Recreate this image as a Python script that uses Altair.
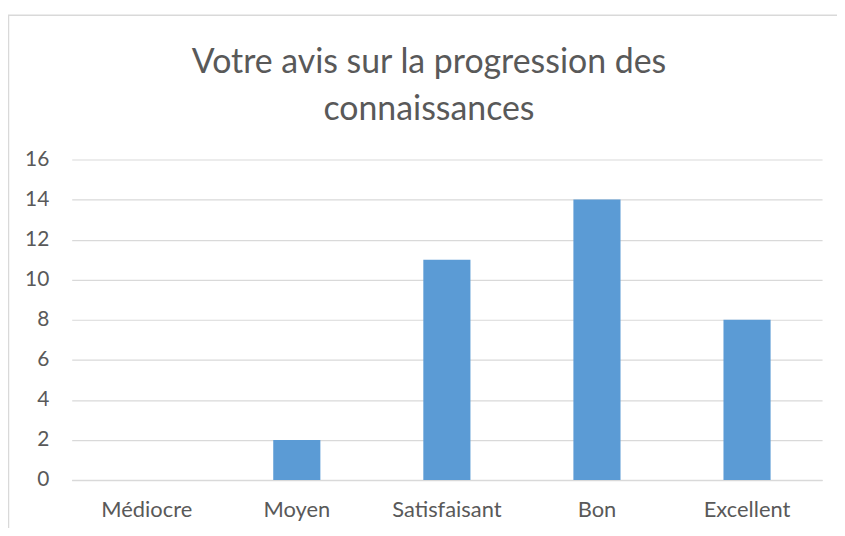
import altair as alt
import pandas as pd

categories = ["Médiocre", "Moyen", "Satisfaisant", "Bon", "Excellent"]
values = [0, 2, 11, 14, 8]
title_lines = ["Votre avis sur la progression des", "connaissances"]

df = pd.DataFrame({"cat": categories, "val": values})

W, H = 754, 322
GREY = "#595959"
LINE = "#D9D9D9"

bars = alt.Chart(df).mark_bar(color="#5B9BD5", width={"band": 0.314}).encode(
    x=alt.X("cat:N", sort=categories, title=None,
            scale=alt.Scale(paddingInner=0, paddingOuter=0),
            axis=alt.Axis(labelAngle=0, labelFontSize=22, labelColor=GREY,
                          labelFont="Lato", ticks=False, domain=True,
                          domainColor=LINE, domainWidth=1.5, labelPadding=20,
                          grid=False)),
    y=alt.Y("val:Q", title=None,
            scale=alt.Scale(domain=[0, 16]),
            axis=alt.Axis(values=list(range(0, 17, 2)), labelFontSize=21,
                          labelColor=GREY, labelFont="Lato", ticks=False,
                          domain=False, gridColor=LINE, gridWidth=1.2,
                          labelPadding=23)),
)

frame = alt.Chart(pd.DataFrame({"a": [0]})).mark_rect(
    fill=None, stroke=LINE, strokeWidth=1.5, clip=False
).encode(
    x=alt.value(-63.5), x2=alt.value(W + 30),
    y=alt.value(-145), y2=alt.value(H + 80),
)

title = alt.Chart(pd.DataFrame({"a": [0]})).mark_text(
    text=title_lines, font="Lato", fontSize=34, color=GREY,
    lineHeight=47, align="center", baseline="alphabetic"
).encode(x=alt.value(W / 2 - 18), y=alt.value(-87))

chart = alt.layer(frame, title, bars).properties(
    width=W, height=H, background="white",
    padding={"left": 64, "top": 151, "right": 15, "bottom": 47},
    autosize=alt.AutoSizeParams(type="none"),
).configure_view(strokeWidth=0, stroke=None)

chart.save("out.html", embed_options={"renderer": "svg", "actions": False})
